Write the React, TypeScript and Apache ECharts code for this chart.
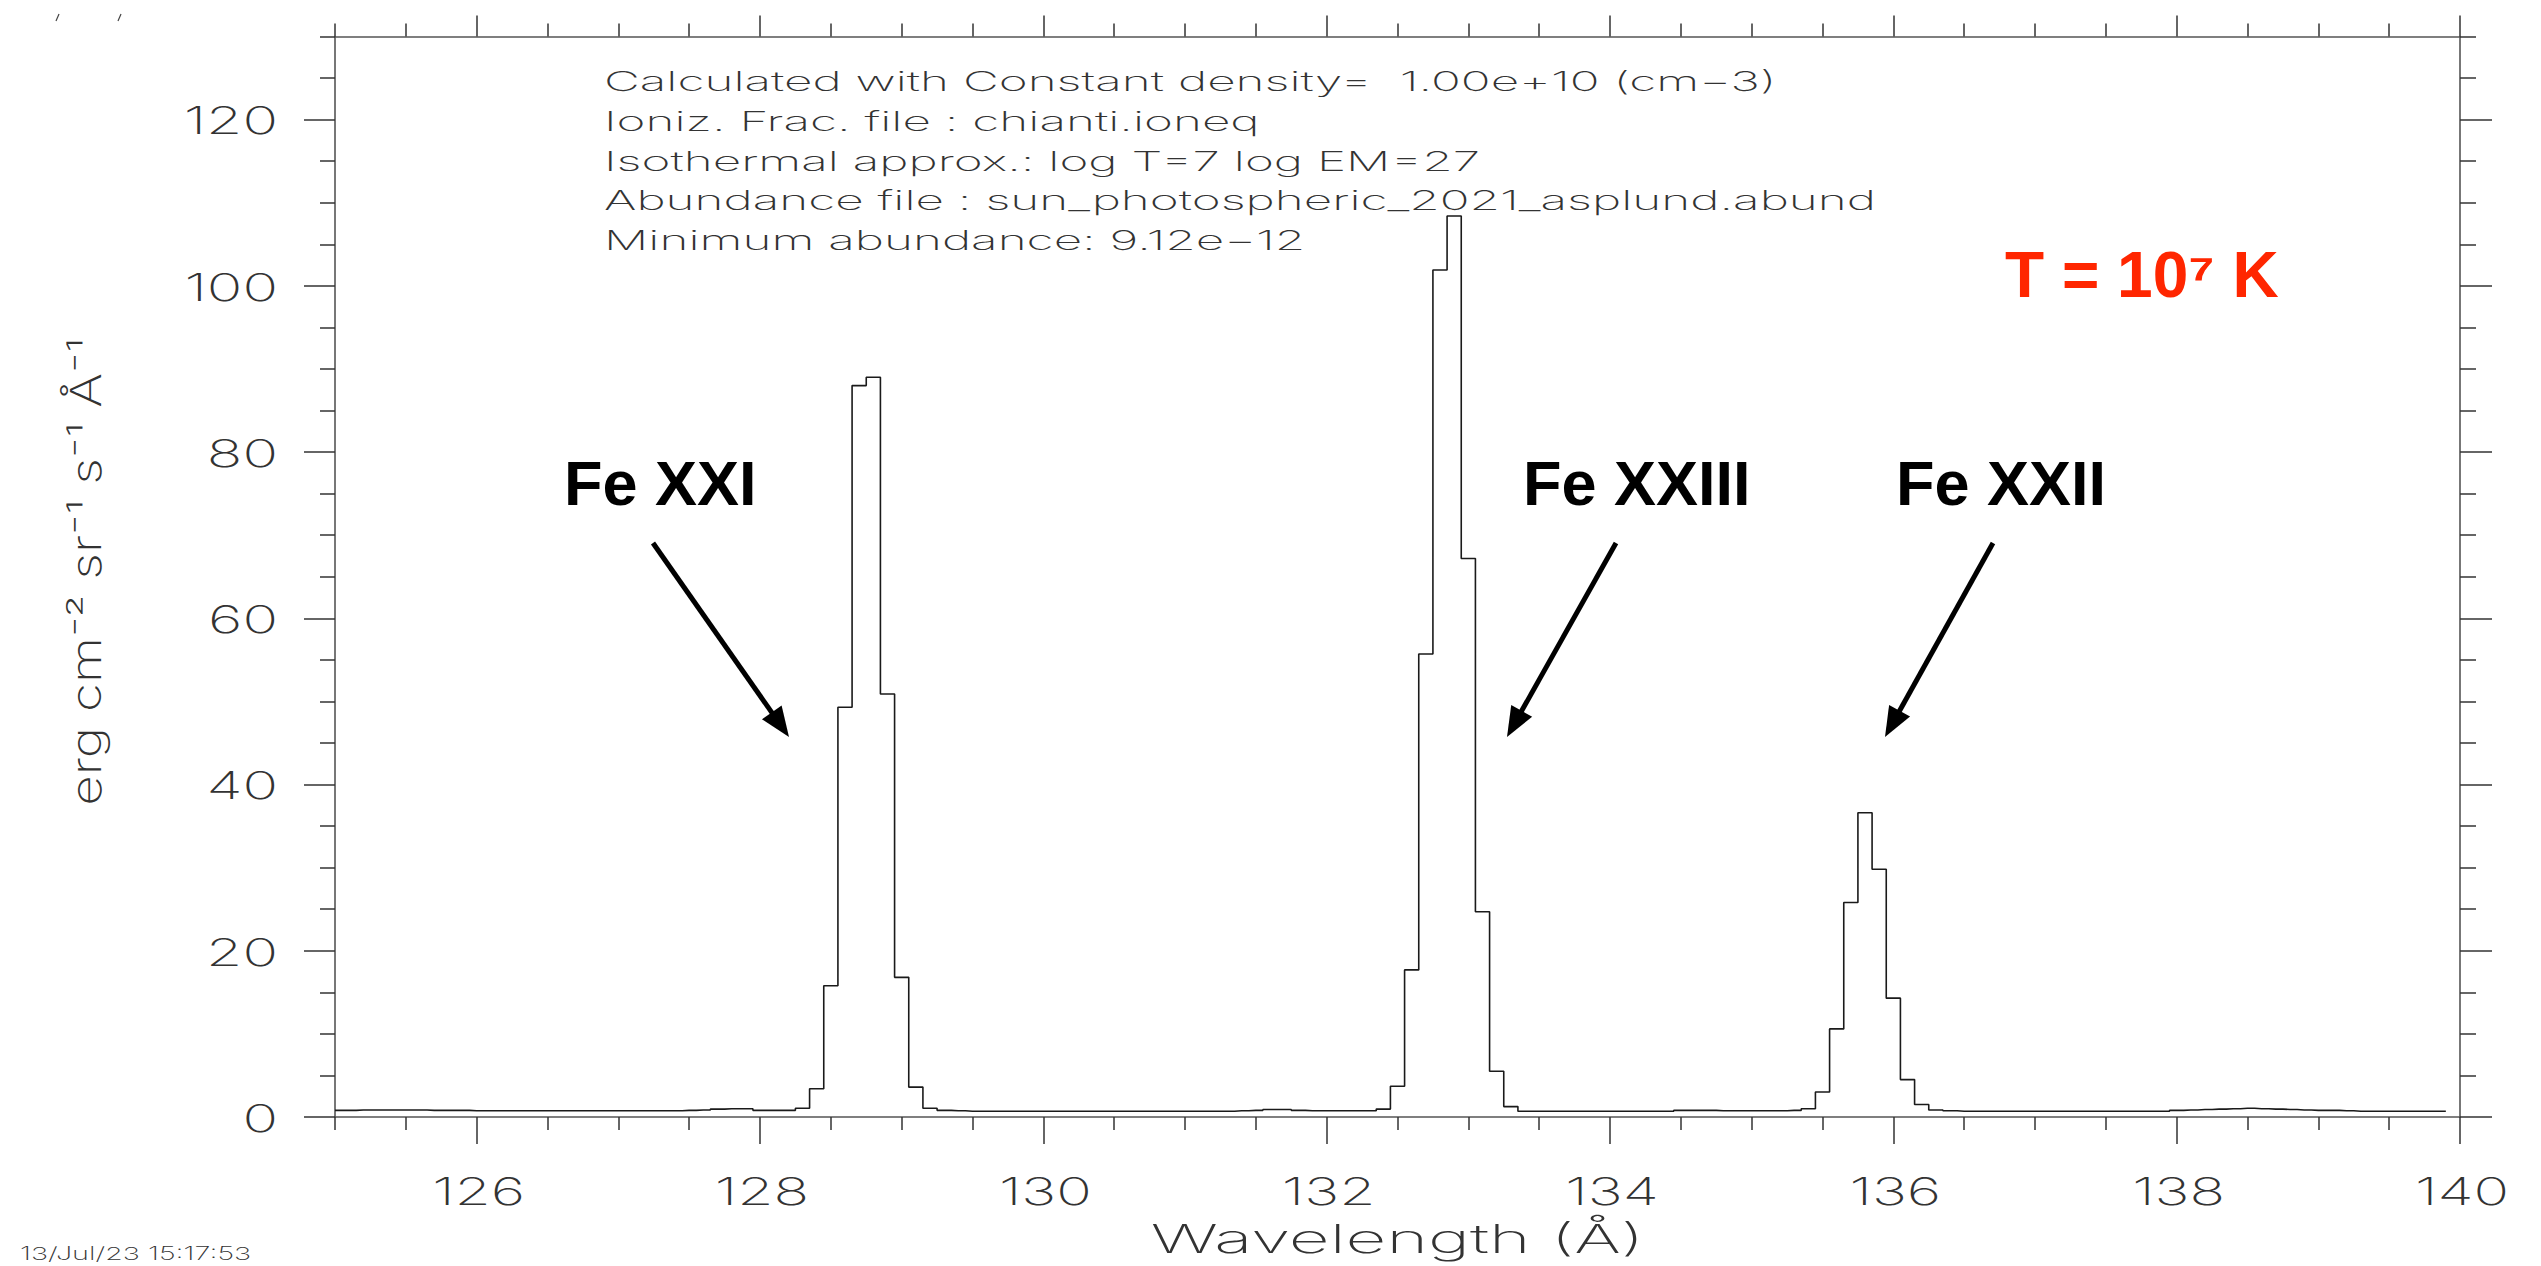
import React, { useEffect, useRef } from "react";
import * as echarts from "echarts";

// ---------------- data ----------------
// Spectrum sampled on a 0.1 Å grid starting at 125.0 Å; one row per Ångström.
const WAVE_START = 125.0;
const WAVE_STEP = 0.1;
const FLUX_125 = [0.8, 0.8, 0.85, 0.85, 0.85, 0.85, 0.85, 0.8, 0.8, 0.8];
const FLUX_126 = [0.75, 0.75, 0.75, 0.75, 0.75, 0.75, 0.75, 0.75, 0.75, 0.75];
const FLUX_127 = [0.75, 0.75, 0.75, 0.75, 0.75, 0.8, 0.85, 0.95, 1.0, 1.0];
const FLUX_128 = [0.8, 0.8, 0.8, 1.06, 3.4, 15.8, 49.3, 88.0, 89.0, 50.9];
const FLUX_129 = [16.8, 3.6, 1.06, 0.8, 0.75, 0.7, 0.7, 0.7, 0.7, 0.7];
const FLUX_130 = [0.7, 0.7, 0.7, 0.7, 0.7, 0.7, 0.7, 0.7, 0.7, 0.7];
const FLUX_131 = [0.7, 0.7, 0.7, 0.7, 0.75, 0.8, 0.9, 0.9, 0.8, 0.75];
const FLUX_132 = [0.75, 0.75, 0.75, 0.75, 0.95, 3.7, 17.7, 55.7, 101.9, 108.4];
const FLUX_133 = [67.2, 24.7, 5.5, 1.25, 0.7, 0.7, 0.7, 0.7, 0.7, 0.7];
const FLUX_134 = [0.7, 0.7, 0.7, 0.7, 0.7, 0.8, 0.8, 0.8, 0.75, 0.75];
const FLUX_135 = [0.75, 0.75, 0.75, 0.8, 1.0, 3.0, 10.6, 25.8, 36.6, 29.8];
const FLUX_136 = [14.3, 4.5, 1.5, 0.84, 0.75, 0.7, 0.7, 0.7, 0.7, 0.7];
const FLUX_137 = [0.7, 0.7, 0.7, 0.7, 0.7, 0.7, 0.7, 0.7, 0.7, 0.7];
const FLUX_138 = [0.8, 0.85, 0.9, 0.95, 1.0, 1.05, 1.0, 0.95, 0.9, 0.85];
const FLUX_139 = [0.8, 0.8, 0.75, 0.7, 0.7, 0.7, 0.7, 0.7, 0.7, 0.7];

const FLUX = [
  ...FLUX_125, ...FLUX_126, ...FLUX_127, ...FLUX_128, ...FLUX_129,
  ...FLUX_130, ...FLUX_131, ...FLUX_132, ...FLUX_133, ...FLUX_134,
  ...FLUX_135, ...FLUX_136, ...FLUX_137, ...FLUX_138, ...FLUX_139,
];

const X_MIN = 125;
const X_MAX = 140;
const Y_MIN = 0;
const Y_MAX = 130;

const X_MAJOR = [126, 128, 130, 132, 134, 136, 138, 140];
const X_MINOR = [125, 125.5, 126.5, 127, 127.5, 128.5, 129, 129.5, 130.5, 131, 131.5,
  132.5, 133, 133.5, 134.5, 135, 135.5, 136.5, 137, 137.5, 138.5, 139, 139.5];
const Y_MAJOR = [0, 20, 40, 60, 80, 100, 120];
const Y_MINOR = [5, 10, 15, 25, 30, 35, 45, 50, 55, 65, 70, 75, 85, 90, 95,
  105, 110, 115, 125, 130];
const X_LABELS = ["126", "128", "130", "132", "134", "136", "138", "140"];
const Y_LABELS = ["0", "20", "40", "60", "80", "100", "120"];

const X_TITLE = "Wavelength (Å)";
const Y_TITLE = "erg cm⁻² sr⁻¹ s⁻¹ Å⁻¹";
const INFO_LINES = [
  "Calculated with Constant density=  1.00e+10 (cm−3)",
  "Ioniz. Frac. file : chianti.ioneq",
  "Isothermal approx.: log T=7 log EM=27",
  "Abundance file : sun_photospheric_2021_asplund.abund",
  "Minimum abundance: 9.12e−12",
];
const ION_LABELS = ["Fe XXI", "Fe XXIII", "Fe XXII"];
const TEMP_LABEL = "T = 10⁷ K";
const STAMP = "13/Jul/23 15:17:53";

// ---------------- styles ----------------
const W = 2541;
const H = 1266;
const AXIS_COLOR = "#555555";
const TICK_COLOR = "#333333";
const TEXT_COLOR = "#333333";
const LINE_FONT = "Inter, Roboto, sans-serif";

export default function App() {
  const ref = useRef<HTMLDivElement>(null);

  useEffect(() => {
    if (!ref.current) return;
    const chart = echarts.init(ref.current, null, { renderer: "svg" });

    const data = FLUX.map((f, i) => [Number((WAVE_START + i * WAVE_STEP).toFixed(1)), f]);

    const xAxis = (position: string, values: number[], len: number, line: boolean) => ({
      type: "value",
      position,
      min: X_MIN,
      max: X_MAX,
      axisLine: { show: line, onZero: false, lineStyle: { color: AXIS_COLOR, width: 1.6 } },
      axisTick: { show: true, inside: false, length: len, customValues: values,
        lineStyle: { color: TICK_COLOR, width: 1.5 } },
      axisLabel: { show: false },
      splitLine: { show: false },
    });
    const yAxis = (position: string, values: number[], len: number, line: boolean) => ({
      type: "value",
      position,
      min: Y_MIN,
      max: Y_MAX,
      axisLine: { show: line, onZero: false, lineStyle: { color: AXIS_COLOR, width: 1.6 } },
      axisTick: { show: true, inside: false, length: len, customValues: values,
        lineStyle: { color: TICK_COLOR, width: 1.5 } },
      axisLabel: { show: false },
      splitLine: { show: false },
    });

    chart.setOption({
      animation: false,
      backgroundColor: "#ffffff",
      grid: { left: 335, right: 81, top: 36.5, bottom: 149, containLabel: false },
      xAxis: [
        xAxis("bottom", X_MAJOR, 27, true),
        xAxis("bottom", X_MINOR, 13, false),
        xAxis("top", X_MAJOR, 21, true),
        xAxis("top", X_MINOR, 13, false),
      ],
      yAxis: [
        yAxis("left", Y_MAJOR, 31, true),
        yAxis("left", Y_MINOR, 15, false),
        yAxis("right", Y_MAJOR, 32, true),
        yAxis("right", Y_MINOR, 16, false),
      ],
      series: [
        {
          type: "line",
          xAxisIndex: 0,
          yAxisIndex: 0,
          step: "middle",
          showSymbol: false,
          symbol: "none",
          data,
          lineStyle: { color: "#1a1a1a", width: 1.6 },
        },
      ],
    });

    // pixel frame from the library's own scales
    const px = (v: number) => chart.convertToPixel({ xAxisIndex: 0 }, v) as number;
    const py = (v: number) => chart.convertToPixel({ yAxisIndex: 0 }, v) as number;
    const left = px(X_MIN);
    const right = px(X_MAX);
    const bottom = py(Y_MIN);
    const top = py(Y_MAX);

    const hershey = (text: string, x: number, y: number, size: number, sx: number,
      align: string, valign: string, extra: any = {}) => ({
      type: "text",
      x,
      y,
      scaleX: sx,
      silent: true,
      ...extra,
      style: {
        text,
        fontFamily: LINE_FONT,
        fontWeight: 200,
        fontSize: size,
        fill: TEXT_COLOR,
        textAlign: align,
        align,
        textVerticalAlign: valign,
        verticalAlign: valign,
      },
    });

    const graphics: any[] = [];

    // tick labels
    X_MAJOR.forEach((v, i) => {
      graphics.push(hershey(X_LABELS[i], px(v) + 2, bottom + 74, 38, 1.55, "center", "middle"));
    });
    Y_MAJOR.forEach((v, i) => {
      graphics.push(hershey(Y_LABELS[i], left - 57, py(v) + 1, 38, 1.55, "right", "middle"));
    });

    // axis titles
    graphics.push(hershey(X_TITLE, (left + right) / 2, bottom + 122, 39, 1.82, "center", "middle"));
    graphics.push(hershey(Y_TITLE, 86, (top + bottom) / 2 - 5, 42, 1.26, "center", "middle",
      { rotation: Math.PI / 2 }));

    // information block
    INFO_LINES.forEach((t, i) => {
      graphics.push(hershey(t, left + 269, top + 45 + i * 39.6, 27, 1.83, "left", "middle"));
    });

    // date stamp at the bottom-left corner
    graphics.push(hershey(STAMP, 20, H - 3, 18, 1.6, "left", "bottom"));

    // tiny marks at the top-left corner
    graphics.push({ type: "line", silent: true, shape: { x1: 56, y1: 21, x2: 59, y2: 14 },
      style: { stroke: "#444", lineWidth: 1.2 } });
    graphics.push({ type: "line", silent: true, shape: { x1: 118, y1: 21, x2: 121, y2: 14 },
      style: { stroke: "#444", lineWidth: 1.2 } });

    // ion labels and arrows
    const ionX = [564, 1523, 1896];
    ionX.forEach((x, i) => {
      graphics.push({
        type: "text", x, y: 483, silent: true,
        style: {
          text: ION_LABELS[i], fontFamily: "Liberation Sans", fontWeight: "bold", fontSize: 63,
          fill: "#000000", textAlign: "left", align: "left",
          textVerticalAlign: "middle", verticalAlign: "middle",
        },
      });
    });
    const arrows = [
      [653, 543, 789, 737],
      [1616, 543, 1507, 737],
      [1993, 543, 1885, 737],
    ];
    arrows.forEach(([x1, y1, x2, y2]) => {
      const dx = x2 - x1;
      const dy = y2 - y1;
      const len = Math.sqrt(dx * dx + dy * dy);
      const ux = dx / len;
      const uy = dy / len;
      const hl = 30;
      const hw = 12;
      const bx = x2 - ux * hl;
      const by = y2 - uy * hl;
      graphics.push({ type: "line", silent: true,
        shape: { x1, y1, x2: bx + ux * 2, y2: by + uy * 2 },
        style: { stroke: "#000", lineWidth: 5 } });
      graphics.push({ type: "polygon", silent: true,
        shape: { points: [[x2, y2], [bx - uy * hw, by + ux * hw], [bx + uy * hw, by - ux * hw]] },
        style: { fill: "#000" } });
    });

    // temperature label
    graphics.push({
      type: "text", x: 2005, y: 275, silent: true,
      style: {
        text: TEMP_LABEL, fontFamily: "Liberation Sans", fontWeight: "bold", fontSize: 64,
        fill: "#ff2600", textAlign: "left", align: "left",
        textVerticalAlign: "middle", verticalAlign: "middle",
      },
    });

    chart.setOption({ graphic: { elements: graphics } });

    return () => chart.dispose();
  }, []);

  return (
    <div
      ref={ref}
      style={{ position: "absolute", left: 0, top: 0, width: W, height: H, background: "#fff" }}
    />
  );
}
